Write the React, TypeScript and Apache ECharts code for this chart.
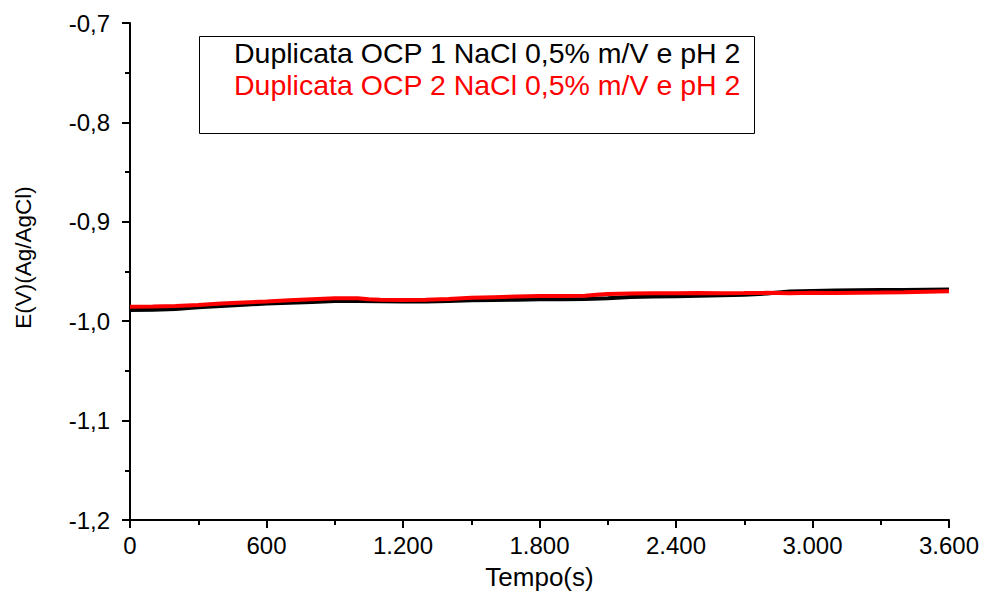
import React, { useEffect, useRef } from "react";
import * as echarts from "echarts";

const xTicks = [0, 600, 1200, 1800, 2400, 3000, 3600];
const yTicks = [-1.2, -1.1, -1.0, -0.9, -0.8, -0.7];

const timeBlack = [0, 100, 200, 300, 400, 500, 600, 700, 800, 900, 1000, 1100, 1200, 1300, 1400, 1500, 1600, 1700, 1800, 1900, 2000, 2100, 2200, 2300, 2400, 2500, 2600, 2700, 2800, 2900, 3000, 3100, 3200, 3300, 3400, 3500, 3600];
const eBlack = [-0.9887, -0.9885, -0.9878, -0.986, -0.9848, -0.9835, -0.9822, -0.9815, -0.9806, -0.9798, -0.9796, -0.98, -0.9802, -0.9803, -0.9798, -0.979, -0.9786, -0.9784, -0.978, -0.9779, -0.9776, -0.977, -0.9756, -0.9752, -0.9748, -0.9745, -0.974, -0.9734, -0.9722, -0.97, -0.9695, -0.969, -0.9688, -0.9687, -0.9686, -0.9684, -0.9682];

const timeRed = [0, 100, 200, 300, 400, 500, 600, 700, 800, 900, 1000, 1050, 1100, 1200, 1300, 1400, 1500, 1600, 1700, 1800, 1900, 2000, 2050, 2100, 2200, 2300, 2400, 2500, 2600, 2700, 2800, 2900, 3000, 3100, 3200, 3300, 3400, 3500, 3600];
const eRed = [-0.9854, -0.9853, -0.9848, -0.9838, -0.9823, -0.9812, -0.9803, -0.979, -0.9778, -0.9768, -0.977, -0.9779, -0.9785, -0.9786, -0.9784, -0.9777, -0.9764, -0.9758, -0.9752, -0.9747, -0.9746, -0.9745, -0.9735, -0.9726, -0.9722, -0.9718, -0.972, -0.9716, -0.9718, -0.9717, -0.9715, -0.9718, -0.9714, -0.9716, -0.9713, -0.9712, -0.9708, -0.9703, -0.9698];

const seriesNames = [
  "Duplicata OCP 1 NaCl 0,5% m/V e pH 2",
  "Duplicata OCP 2 NaCl 0,5% m/V e pH 2",
];

const FONT = "Liberation Sans, Arial, sans-serif";

function fmtX(v: number): string {
  const s = Math.round(v).toString();
  return s.replace(/\B(?=(\d{3})+(?!\d))/g, ".");
}

export default function App() {
  const ref = useRef<HTMLDivElement>(null);
  useEffect(() => {
    if (!ref.current) return;
    const chart = echarts.init(ref.current, null, { renderer: "svg" });
    const axisCommon = {
      axisLine: { show: true, lineStyle: { color: "#000", width: 2 } },
      axisTick: { show: true, inside: false, length: 8, lineStyle: { color: "#000", width: 2 } },
      minorTick: { show: true, splitNumber: 2, length: 5, lineStyle: { color: "#000", width: 2 } },
      splitLine: { show: false },
      minorSplitLine: { show: false },
    };
    chart.setOption({
      animation: false,
      backgroundColor: "#fff",
      grid: { left: 130, right: 37, top: 23, bottom: 75, containLabel: false },
      legend: {
        orient: "vertical",
        left: 229,
        top: 37,
        icon: "none",
        itemWidth: 0,
        itemGap: 0,
        padding: 0,
        selectedMode: false,
        data: [
          { name: seriesNames[0], textStyle: { color: "#000" } },
          { name: seriesNames[1], textStyle: { color: "#ff0000" } },
        ],
        textStyle: { fontFamily: FONT, fontSize: 28.5, lineHeight: 32 },
      },
      graphic: [
        {
          type: "rect",
          left: 197,
          top: 34,
          shape: { width: 555, height: 97 },
          style: { fill: "none", stroke: "#000", lineWidth: 1 },
          z: 10,
        },
      ],
      xAxis: {
        type: "value",
        min: 0,
        max: 3600,
        interval: 600,
        name: "Tempo(s)",
        nameLocation: "middle",
        nameGap: 44,
        nameTextStyle: { fontFamily: FONT, fontSize: 26, color: "#000" },
        axisLabel: {
          fontFamily: FONT,
          fontSize: 24,
          color: "#000",
          margin: 13,
          formatter: (v: number) => fmtX(v),
        },
        ...axisCommon,
      },
      yAxis: {
        type: "value",
        min: -1.2,
        max: -0.7,
        interval: 0.1,
        name: "E(V)(Ag/AgCl)",
        nameLocation: "middle",
        nameGap: 95,
        nameTextStyle: { fontFamily: FONT, fontSize: 22.5, color: "#000", padding: [0, 0, 0, 28] },
        axisLabel: {
          fontFamily: FONT,
          fontSize: 24,
          color: "#000",
          margin: 20,
          formatter: (v: number) => v.toFixed(1).replace(".", ","),
        },
        ...axisCommon,
      },
      series: [
        {
          name: seriesNames[0],
          type: "line",
          showSymbol: false,
          symbol: "none",
          data: timeBlack.map((t, i) => [t, eBlack[i]]),
          lineStyle: { color: "#000", width: 4 },
          itemStyle: { color: "#000" },
          z: 2,
        },
        {
          name: seriesNames[1],
          type: "line",
          showSymbol: false,
          symbol: "none",
          data: timeRed.map((t, i) => [t, eRed[i]]),
          lineStyle: { color: "#ff0000", width: 4 },
          itemStyle: { color: "#ff0000" },
          z: 3,
        },
      ],
    });
    return () => chart.dispose();
  }, []);
  return (
    <div
      ref={ref}
      style={{ position: "fixed", left: 0, top: 0, width: 986, height: 595, background: "#fff" }}
    />
  );
}
